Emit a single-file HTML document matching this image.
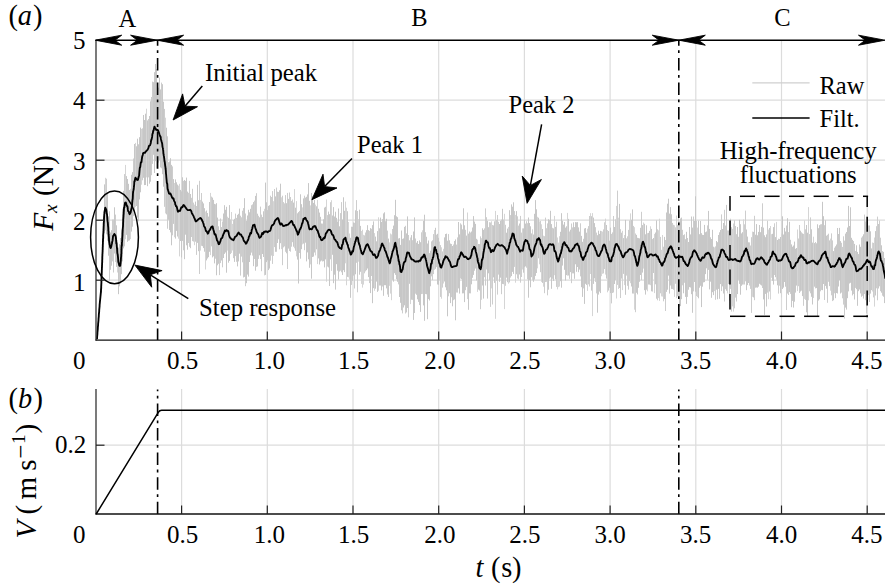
<!DOCTYPE html>
<html><head><meta charset="utf-8"><style>
html,body{margin:0;padding:0;background:#fff;}
svg{display:block;}
text{font-family:"Liberation Serif",serif;fill:#000;}
</style></head><body>
<svg width="885" height="585" viewBox="0 0 885 585">
<rect width="885" height="585" fill="#fff"/>
<line x1="181.6" y1="40" x2="181.6" y2="340" stroke="#dcdcdc" stroke-width="1.2"/><line x1="267.3" y1="40" x2="267.3" y2="340" stroke="#dcdcdc" stroke-width="1.2"/><line x1="353.0" y1="40" x2="353.0" y2="340" stroke="#dcdcdc" stroke-width="1.2"/><line x1="438.7" y1="40" x2="438.7" y2="340" stroke="#dcdcdc" stroke-width="1.2"/><line x1="524.4" y1="40" x2="524.4" y2="340" stroke="#dcdcdc" stroke-width="1.2"/><line x1="610.1" y1="40" x2="610.1" y2="340" stroke="#dcdcdc" stroke-width="1.2"/><line x1="695.8" y1="40" x2="695.8" y2="340" stroke="#dcdcdc" stroke-width="1.2"/><line x1="781.5" y1="40" x2="781.5" y2="340" stroke="#dcdcdc" stroke-width="1.2"/><line x1="867.2" y1="40" x2="867.2" y2="340" stroke="#dcdcdc" stroke-width="1.2"/><line x1="96" y1="280.2" x2="885" y2="280.2" stroke="#dcdcdc" stroke-width="1.2"/><line x1="96" y1="220.2" x2="885" y2="220.2" stroke="#dcdcdc" stroke-width="1.2"/><line x1="96" y1="160.2" x2="885" y2="160.2" stroke="#dcdcdc" stroke-width="1.2"/><line x1="96" y1="100.2" x2="885" y2="100.2" stroke="#dcdcdc" stroke-width="1.2"/><line x1="181.6" y1="389" x2="181.6" y2="514" stroke="#dcdcdc" stroke-width="1.2"/><line x1="267.3" y1="389" x2="267.3" y2="514" stroke="#dcdcdc" stroke-width="1.2"/><line x1="353.0" y1="389" x2="353.0" y2="514" stroke="#dcdcdc" stroke-width="1.2"/><line x1="438.7" y1="389" x2="438.7" y2="514" stroke="#dcdcdc" stroke-width="1.2"/><line x1="524.4" y1="389" x2="524.4" y2="514" stroke="#dcdcdc" stroke-width="1.2"/><line x1="610.1" y1="389" x2="610.1" y2="514" stroke="#dcdcdc" stroke-width="1.2"/><line x1="695.8" y1="389" x2="695.8" y2="514" stroke="#dcdcdc" stroke-width="1.2"/><line x1="781.5" y1="389" x2="781.5" y2="514" stroke="#dcdcdc" stroke-width="1.2"/><line x1="867.2" y1="389" x2="867.2" y2="514" stroke="#dcdcdc" stroke-width="1.2"/><line x1="96" y1="445.2" x2="885" y2="445.2" stroke="#dcdcdc" stroke-width="1.2"/><path d="M97.5 330.3V326.0M98.5 315.2V321.0M100.5 287.6V300.4M101.5 269.7V292.9M103.5 215.9V241.9M104.5 184.4V233.3M107.5 193.5V240.7M108.5 216.4V255.7M110.5 232.5V269.8M111.5 230.2V265.7M114.5 207.3V253.5M116.5 225.3V266.9M118.5 247.6V294.2M120.5 238.0V283.6M121.5 229.6V274.2M123.5 190.9V248.4M126.5 176.1V234.9M127.5 179.0V241.8M128.5 183.8V240.7M129.5 190.0V240.4M131.5 174.8V231.6M132.5 172.1V226.7M134.5 144.0V211.3M136.5 146.3V206.0M137.5 138.7V217.6M138.5 144.3V221.3M139.5 137.2V199.4M140.5 127.6V192.3M143.5 115.0V177.8M144.5 120.0V185.1M145.5 113.7V185.0M147.5 120.4V186.2M149.5 116.0V183.7M150.5 101.3V181.7M153.5 82.2V154.8M154.5 72.2V173.0M155.5 64.0V161.2M156.5 69.0V168.5M157.5 83.0V159.5M159.5 77.6V160.3M160.5 89.4V167.4M162.5 84.2V174.2M163.5 101.7V186.7M166.5 127.7V214.4M168.5 162.2V219.8M169.5 161.4V230.0M170.5 158.2V232.4M171.5 164.9V245.3M173.5 179.1V223.9M175.5 179.4V238.6M176.5 182.3V230.9M177.5 184.6V236.5M180.5 189.9V241.0M181.5 191.4V257.4M182.5 177.3V240.9M184.5 180.0V259.2M185.5 180.9V234.7M186.5 177.6V245.3M187.5 191.6V249.7M190.5 194.0V248.2M195.5 201.6V241.7M197.5 184.8V242.9M198.5 200.2V251.2M202.5 201.6V246.2M203.5 203.4V248.1M204.5 208.2V251.7M206.5 210.5V260.4M207.5 213.0V258.5M208.5 216.6V257.2M209.5 202.0V251.8M212.5 197.6V257.4M213.5 199.9V256.3M214.5 203.9V263.4M216.5 203.2V275.3M217.5 217.6V265.3M218.5 226.3V263.8M221.5 227.1V260.5M223.5 213.5V258.0M224.5 205.2V253.9M225.5 209.8V252.5M226.5 206.8V272.7M228.5 217.9V262.7M229.5 205.1V260.9M234.5 218.8V261.9M237.5 214.9V266.4M238.5 213.8V261.4M239.5 208.6V253.7M244.5 198.2V276.9M246.5 220.8V283.2M247.5 215.5V274.6M248.5 209.8V276.6M249.5 212.3V262.0M250.5 208.8V255.3M253.5 202.1V266.2M255.5 195.9V270.7M257.5 213.7V266.4M259.5 217.3V255.3M262.5 217.1V254.0M263.5 211.3V257.0M265.5 182.6V274.9M266.5 202.3V262.1M267.5 210.1V260.4M268.5 205.9V270.1M269.5 205.2V268.5M275.5 196.4V251.8M277.5 191.7V243.0M279.5 190.3V249.3M280.5 183.7V243.2M286.5 203.2V253.3M288.5 198.9V248.6M293.5 202.6V246.7M295.5 207.7V250.8M297.5 213.3V259.6M298.5 212.1V283.5M300.5 194.3V258.7M301.5 204.2V249.2M303.5 198.4V243.6M305.5 197.6V242.7M306.5 196.8V261.4M307.5 194.4V252.4M308.5 183.1V259.3M309.5 200.8V267.8M311.5 193.0V278.7M312.5 196.0V257.0M313.5 202.9V256.6M314.5 199.8V252.5M316.5 206.3V249.3M318.5 208.8V258.4M319.5 212.6V264.5M320.5 216.8V261.5M321.5 223.5V260.6M323.5 219.3V261.2M324.5 207.6V267.4M325.5 206.8V259.4M328.5 211.6V267.4M329.5 214.2V286.0M332.5 215.5V254.8M333.5 207.1V283.2M334.5 216.5V274.7M335.5 211.7V289.6M336.5 217.8V264.2M337.5 221.5V270.7M338.5 208.5V279.5M339.5 226.3V271.6M342.5 219.6V275.0M343.5 197.3V270.2M344.5 210.8V272.1M347.5 211.2V276.9M350.5 237.8V297.8M352.5 226.8V280.9M353.5 222.4V275.6M355.5 210.3V274.3M359.5 209.7V274.7M360.5 225.9V271.8M366.5 230.2V270.2M367.5 225.2V268.5M368.5 230.1V277.1M370.5 228.1V293.1M372.5 225.1V303.2M373.5 221.4V288.2M375.5 236.6V288.7M376.5 241.3V281.6M377.5 231.1V291.9M379.5 228.3V285.5M380.5 217.6V285.5M381.5 221.9V290.4M383.5 213.4V295.8M384.5 212.3V285.2M385.5 221.2V285.2M386.5 218.8V288.4M388.5 238.6V297.0M393.5 225.6V281.7M394.5 215.2V273.2M395.5 199.8V274.9M396.5 216.3V279.2M397.5 217.2V281.8M399.5 238.1V297.0M400.5 244.9V302.8M401.5 230.5V310.3M403.5 238.4V307.5M404.5 226.9V305.3M406.5 233.4V312.4M407.5 216.4V308.0M409.5 240.3V283.8M411.5 235.1V299.7M413.5 231.5V319.9M414.5 217.4V313.0M416.5 242.7V294.8M417.5 241.0V299.3M418.5 244.0V301.9M419.5 240.4V305.1M420.5 242.2V311.9M423.5 220.9V305.4M424.5 214.7V320.8M426.5 236.8V294.3M427.5 243.5V319.2M428.5 240.5V299.1M429.5 253.1V300.5M430.5 250.7V286.3M435.5 227.8V268.8M437.5 233.8V284.5M438.5 237.8V284.8M444.5 237.4V281.5M445.5 234.0V287.3M446.5 233.6V290.3M447.5 240.7V316.3M449.5 240.3V293.2M450.5 243.6V303.1M452.5 246.0V306.3M454.5 241.0V299.4M455.5 239.4V320.3M458.5 222.0V288.4M459.5 234.4V293.6M461.5 224.6V279.2M462.5 229.3V293.4M463.5 208.3V293.3M464.5 225.3V302.1M466.5 235.6V286.9M468.5 233.6V309.8M469.5 231.5V293.3M471.5 231.5V284.3M472.5 227.5V277.8M473.5 216.1V274.9M474.5 221.6V270.7M475.5 223.9V268.5M476.5 238.8V280.4M478.5 244.0V289.6M479.5 244.1V290.5M482.5 228.3V285.5M483.5 229.9V298.6M487.5 220.9V298.6M488.5 227.2V273.3M493.5 225.4V277.4M494.5 221.3V282.9M499.5 224.0V281.8M500.5 220.9V277.7M502.5 208.8V283.9M506.5 232.7V277.7M507.5 228.6V282.2M509.5 210.2V282.4M511.5 204.4V276.1M512.5 206.7V271.9M513.5 202.3V273.9M516.5 211.1V274.3M519.5 223.5V274.5M523.5 228.4V272.7M524.5 219.7V267.2M525.5 223.6V266.4M528.5 217.5V297.7M529.5 223.0V280.0M530.5 226.3V287.3M531.5 233.4V277.2M533.5 234.5V281.8M534.5 213.8V279.6M535.5 200.1V275.9M536.5 209.3V273.0M538.5 217.7V258.3M542.5 229.0V282.9M548.5 219.2V289.7M550.5 210.8V277.3M551.5 224.1V288.8M553.5 228.4V280.9M555.5 226.9V279.3M560.5 231.8V281.2M561.5 213.2V287.7M562.5 220.7V265.6M563.5 224.6V258.3M564.5 222.0V269.8M565.5 227.6V280.5M566.5 226.3V275.1M568.5 218.9V275.5M570.5 229.7V272.1M573.5 222.3V273.4M574.5 227.1V278.8M575.5 222.1V264.3M576.5 222.3V271.8M577.5 222.1V267.0M578.5 227.4V272.2M579.5 231.6V269.6M581.5 235.9V287.2M582.5 241.8V296.9M584.5 228.5V303.9M585.5 228.0V283.8M586.5 232.7V284.9M591.5 216.2V290.6M593.5 217.6V283.9M594.5 223.1V278.4M597.5 235.2V312.7M598.5 230.7V294.6M599.5 233.9V291.6M600.5 230.8V293.1M606.5 225.0V278.6M608.5 231.0V290.6M609.5 240.7V287.7M610.5 227.6V293.1M614.5 227.0V284.0M619.5 203.9V288.0M621.5 232.7V278.6M623.5 238.1V273.9M625.5 219.9V294.8M631.5 219.9V286.5M632.5 209.4V293.5M636.5 234.9V292.8M637.5 237.8V294.4M638.5 238.1V287.8M639.5 238.4V281.8M640.5 227.8V275.0M642.5 225.1V272.6M644.5 223.8V290.2M645.5 234.3V294.6M646.5 225.3V289.7M648.5 232.9V284.5M649.5 230.9V284.6M651.5 228.9V291.3M653.5 238.0V273.0M655.5 232.5V284.3M656.5 220.4V298.7M664.5 236.9V299.1M666.5 212.5V291.9M667.5 203.7V289.7M668.5 198.7V275.6M669.5 213.6V293.6M670.5 207.1V285.5M671.5 214.3V288.9M680.5 218.5V306.1M681.5 217.6V299.2M683.5 235.1V293.3M685.5 239.2V296.9M686.5 231.8V303.9M688.5 242.0V289.7M689.5 227.0V287.1M690.5 234.4V287.5M691.5 216.5V294.2M692.5 227.6V312.8M694.5 221.0V282.0M695.5 196.3V291.7M698.5 220.7V298.3M699.5 234.2V287.7M700.5 221.0V285.8M701.5 233.2V307.1M702.5 234.8V286.7M703.5 235.0V282.4M704.5 224.9V282.1M705.5 232.2V274.1M706.5 231.5V268.3M708.5 210.9V269.9M709.5 228.9V289.4M710.5 237.3V281.7M711.5 239.0V297.8M712.5 229.8V292.2M713.5 246.7V295.1M716.5 241.0V289.7M717.5 242.2V299.3M718.5 235.0V288.9M719.5 232.3V298.8M720.5 230.0V284.1M722.5 229.0V286.4M723.5 223.0V293.5M726.5 204.9V290.8M728.5 230.5V284.0M729.5 228.7V300.5M737.5 227.0V294.1M739.5 219.8V283.9M740.5 224.2V294.7M741.5 233.4V285.8M742.5 232.2V284.6M746.5 229.5V290.2M747.5 236.6V285.1M748.5 242.3V283.0M753.5 231.9V297.4M755.5 234.7V287.7M756.5 224.1V287.5M757.5 235.3V287.7M758.5 231.9V286.7M759.5 225.0V283.8M760.5 232.2V284.7M761.5 226.9V285.5M763.5 227.6V299.4M764.5 235.3V314.9M765.5 237.2V293.9M766.5 234.4V306.5M769.5 228.0V291.5M772.5 233.8V280.8M773.5 227.1V284.6M775.5 237.1V277.2M777.5 240.0V285.3M780.5 237.0V293.2M782.5 216.3V289.0M783.5 234.5V287.6M784.5 227.9V282.0M785.5 231.5V286.7M787.5 218.2V293.6M789.5 221.8V292.1M791.5 244.4V307.2M792.5 246.7V300.9M793.5 245.5V307.6M794.5 241.6V301.7M795.5 248.8V292.6M796.5 248.0V285.6M800.5 230.7V291.5M802.5 233.4V296.1M806.5 225.0V312.3M807.5 232.7V316.1M811.5 229.3V296.8M812.5 242.6V304.5M814.5 243.1V286.7M816.5 243.3V288.1M817.5 224.3V316.0M818.5 228.2V300.6M819.5 225.2V299.3M822.5 201.8V290.2M823.5 216.2V284.0M825.5 220.3V285.9M826.5 235.7V288.7M829.5 240.4V286.1M833.5 251.1V300.3M835.5 246.3V298.2M836.5 244.5V293.0M837.5 228.0V293.5M838.5 234.0V286.5M839.5 227.9V280.1M840.5 241.1V293.5M845.5 233.6V307.6M846.5 232.0V309.6M847.5 227.5V298.2M848.5 205.9V291.4M849.5 226.0V283.5M850.5 207.3V282.8M851.5 237.8V290.6M852.5 239.8V295.4M854.5 243.9V299.5M856.5 245.3V289.2M857.5 251.9V305.8M858.5 254.1V291.2M859.5 244.5V289.5M860.5 246.8V293.4M863.5 234.3V298.6M867.5 222.4V302.1M869.5 225.5V302.0M870.5 231.3V293.6M871.5 248.4V290.1M875.5 231.1V295.5M878.5 224.0V288.5M881.5 245.3V292.7M883.5 251.9V296.7M884.5 258.0V303.1" stroke="#c7c7c7" stroke-width="1" fill="none"/><path d="M99.5 303.4V310.9M106.5 178.7V234.3M109.5 211.3V281.1M112.5 219.5V261.4M113.5 219.5V272.5M115.5 214.6V262.1M119.5 244.1V286.3M122.5 208.7V261.4M124.5 174.1V246.4M133.5 158.5V216.2M142.5 128.3V180.3M148.5 119.0V177.4M151.5 97.0V175.2M152.5 81.6V163.9M158.5 87.6V162.6M161.5 82.6V168.3M164.5 108.9V206.8M167.5 136.3V228.7M172.5 166.4V235.3M183.5 180.9V250.3M188.5 192.8V243.0M189.5 180.9V246.8M191.5 197.8V237.0M192.5 188.8V241.1M193.5 202.6V241.6M196.5 206.0V254.9M199.5 180.8V274.0M201.5 193.0V245.8M211.5 196.6V246.4M215.5 204.3V258.7M219.5 230.1V275.1M220.5 218.5V263.1M222.5 221.5V267.3M230.5 219.5V254.1M233.5 220.0V258.2M235.5 213.6V256.1M236.5 217.9V261.8M240.5 215.7V275.6M241.5 217.3V256.6M242.5 210.7V262.3M243.5 208.1V277.5M245.5 213.5V286.2M251.5 205.2V252.6M252.5 204.4V255.6M254.5 200.6V259.0M256.5 193.2V266.9M258.5 215.8V258.9M260.5 206.6V259.1M261.5 214.6V271.2M270.5 195.7V260.7M271.5 197.0V255.6M272.5 191.1V263.9M274.5 189.0V247.1M276.5 187.6V251.8M278.5 192.0V239.3M282.5 195.7V265.2M283.5 202.1V247.4M284.5 203.4V246.4M285.5 195.1V251.8M287.5 192.9V269.0M289.5 192.5V251.0M290.5 197.0V251.7M291.5 200.9V246.7M292.5 199.5V242.2M299.5 210.9V253.0M304.5 195.7V250.2M322.5 223.6V261.5M327.5 215.1V266.6M330.5 202.2V259.3M340.5 213.1V270.7M341.5 202.1V272.3M351.5 226.7V284.9M354.5 222.8V288.5M356.5 200.1V262.8M357.5 211.0V292.3M364.5 235.4V273.3M365.5 232.5V271.4M369.5 230.9V283.1M371.5 228.8V276.0M382.5 219.0V286.5M387.5 230.6V294.5M392.5 229.0V279.9M398.5 238.5V284.4M402.5 238.9V313.4M405.5 225.8V313.5M408.5 235.0V317.3M412.5 240.2V299.9M415.5 238.5V293.7M421.5 232.3V294.1M425.5 232.2V294.0M431.5 241.4V276.4M432.5 240.3V280.1M433.5 234.1V274.1M436.5 234.7V267.1M440.5 245.1V296.9M442.5 251.4V287.6M448.5 234.1V296.3M451.5 244.0V297.2M453.5 244.5V300.2M456.5 244.6V292.5M457.5 237.4V292.6M460.5 223.3V278.5M465.5 229.8V290.2M470.5 232.5V293.4M480.5 236.4V309.2M484.5 228.4V277.2M485.5 208.4V285.5M486.5 217.2V269.5M489.5 222.2V280.2M490.5 222.5V306.9M492.5 225.0V304.5M496.5 220.0V280.8M497.5 215.0V294.6M498.5 221.8V274.6M501.5 219.6V294.2M503.5 219.6V284.2M505.5 224.8V285.8M510.5 215.1V277.6M514.5 211.1V266.9M517.5 216.3V278.5M518.5 225.6V279.3M520.5 215.9V282.7M521.5 232.6V277.0M526.5 221.2V267.7M527.5 223.2V279.4M540.5 221.0V272.2M544.5 236.2V293.2M545.5 217.6V282.0M546.5 228.2V281.8M547.5 223.4V295.3M549.5 220.0V278.6M552.5 227.8V278.8M556.5 221.7V286.9M569.5 231.5V278.8M571.5 223.5V283.2M572.5 227.4V273.4M580.5 223.3V276.4M583.5 238.8V288.4M588.5 226.1V284.3M589.5 216.0V286.5M595.5 227.2V281.9M596.5 232.6V293.4M603.5 229.4V273.4M604.5 222.3V269.1M611.5 233.9V303.4M612.5 232.4V293.0M613.5 216.0V292.5M615.5 219.3V280.0M617.5 190.6V284.9M620.5 229.2V298.0M626.5 238.3V275.6M627.5 236.3V285.8M628.5 229.9V289.6M629.5 220.5V281.1M633.5 225.9V293.6M635.5 233.5V312.2M641.5 211.8V280.1M652.5 239.1V291.6M657.5 229.3V300.3M660.5 236.9V293.3M663.5 246.7V301.3M665.5 240.0V311.0M672.5 222.9V289.0M673.5 224.8V289.7M675.5 227.3V283.8M677.5 224.8V296.3M678.5 217.8V298.6M679.5 221.4V306.8M682.5 229.8V285.3M684.5 234.3V282.8M687.5 238.0V296.9M693.5 216.5V291.4M696.5 220.8V296.0M707.5 225.4V279.7M715.5 246.4V299.8M721.5 214.4V291.1M724.5 209.8V301.5M725.5 225.5V289.2M730.5 218.7V288.9M731.5 227.2V311.6M734.5 220.3V308.3M735.5 226.0V297.6M736.5 234.2V301.5M738.5 236.8V279.9M744.5 224.3V284.5M745.5 210.6V281.3M749.5 242.4V285.6M750.5 245.5V288.9M751.5 237.2V312.9M754.5 215.8V300.2M762.5 203.3V288.0M767.5 220.7V292.6M774.5 223.3V275.0M778.5 238.7V293.6M779.5 238.9V285.7M786.5 225.5V310.0M788.5 232.1V295.0M790.5 239.8V293.9M798.5 238.5V286.2M799.5 225.0V293.0M801.5 232.3V290.7M803.5 233.9V305.8M805.5 229.3V299.9M809.5 234.1V291.3M810.5 217.4V293.3M815.5 242.0V288.4M820.5 224.4V291.3M821.5 224.2V289.9M824.5 225.2V300.0M827.5 234.8V302.8M828.5 233.7V281.8M831.5 233.4V295.3M832.5 240.4V301.1M834.5 247.7V293.3M841.5 242.8V292.6M842.5 246.9V298.3M843.5 236.3V304.6M844.5 240.6V318.5M853.5 241.0V294.1M855.5 250.9V287.9M861.5 237.6V296.8M862.5 236.3V295.8M864.5 214.6V294.1M865.5 221.4V300.2M866.5 216.7V313.5M873.5 242.9V297.4M876.5 226.2V288.3M877.5 216.6V300.3M879.5 220.5V286.3M880.5 237.7V291.2M882.5 251.1V295.7" stroke="#cdcdcd" stroke-width="1" fill="none"/><path d="M102.5 234.8V267.7M105.5 177.8V230.2M117.5 240.0V272.5M125.5 164.9V239.2M130.5 188.8V239.1M135.5 142.9V206.9M141.5 128.9V184.7M146.5 108.7V177.4M165.5 117.7V213.4M174.5 183.0V237.2M178.5 185.7V238.7M179.5 183.8V256.4M194.5 204.6V245.2M200.5 199.9V250.6M205.5 211.5V269.5M210.5 192.9V255.1M227.5 216.7V250.6M231.5 212.0V252.9M232.5 223.9V250.5M264.5 208.8V275.4M273.5 201.2V256.0M281.5 197.3V249.1M294.5 189.1V248.3M296.5 201.1V256.4M302.5 207.4V244.4M310.5 205.4V264.4M315.5 204.6V255.4M317.5 199.9V264.1M326.5 199.5V281.7M331.5 200.2V270.9M345.5 201.6V263.3M346.5 207.7V285.3M348.5 222.0V277.3M349.5 233.5V279.7M358.5 219.1V261.7M361.5 231.0V283.9M362.5 229.7V287.6M363.5 234.8V284.6M374.5 233.1V290.8M378.5 217.3V290.7M389.5 242.4V285.8M390.5 233.5V293.6M391.5 234.4V300.2M410.5 237.5V304.1M422.5 230.3V293.9M434.5 230.0V269.8M439.5 241.6V280.5M441.5 247.3V298.7M443.5 248.8V283.5M467.5 212.5V299.1M477.5 239.7V291.9M481.5 238.2V299.8M491.5 221.3V288.4M495.5 210.9V318.8M504.5 213.8V309.1M508.5 226.9V283.7M515.5 214.9V282.7M522.5 228.4V269.5M532.5 229.3V280.2M537.5 216.8V268.4M539.5 221.4V264.3M541.5 224.3V281.9M543.5 235.7V286.7M554.5 215.9V275.2M557.5 237.5V289.4M558.5 242.6V287.1M559.5 236.2V286.5M567.5 212.9V275.7M587.5 228.7V290.9M590.5 213.2V274.0M592.5 213.1V316.1M601.5 231.1V276.2M602.5 231.6V273.8M605.5 218.6V274.6M607.5 230.0V292.3M616.5 205.9V298.5M618.5 217.7V289.0M622.5 230.8V290.1M624.5 235.0V285.1M630.5 213.4V283.2M634.5 227.2V309.7M643.5 222.5V268.6M647.5 233.2V291.3M650.5 226.3V285.2M654.5 233.9V293.1M658.5 230.3V298.1M659.5 218.7V300.9M661.5 249.8V296.4M662.5 235.0V296.6M674.5 225.3V296.8M676.5 215.5V298.2M697.5 227.6V297.0M714.5 247.4V291.1M727.5 230.4V293.4M732.5 228.9V306.4M733.5 223.5V311.6M743.5 219.4V284.5M752.5 231.6V296.8M768.5 229.6V299.2M770.5 226.0V299.5M771.5 234.2V277.8M776.5 221.9V279.7M781.5 233.6V297.4M797.5 229.5V291.1M804.5 220.5V298.9M808.5 207.1V300.3M813.5 236.7V298.0M830.5 238.6V290.7M868.5 225.5V295.1M872.5 242.5V291.5M874.5 237.5V306.6" stroke="#d5d5d5" stroke-width="1" fill="none"/><line x1="157.6" y1="40" x2="157.6" y2="340" stroke="#000" stroke-width="1.6" stroke-dasharray="12.5 4.5 2.8 4.8" stroke-dashoffset="6.7"/><line x1="157.6" y1="389.6" x2="157.6" y2="514" stroke="#000" stroke-width="1.6" stroke-dasharray="12.5 4.5 2.8 4.8" stroke-dashoffset="10.8"/><line x1="678.8" y1="40" x2="678.8" y2="340" stroke="#000" stroke-width="1.6" stroke-dasharray="12.5 4.5 2.8 4.8" stroke-dashoffset="6.7"/><line x1="678.8" y1="389.6" x2="678.8" y2="514" stroke="#000" stroke-width="1.6" stroke-dasharray="12.5 4.5 2.8 4.8" stroke-dashoffset="10.8"/><path d="M97.0,339.3 L97.0,338.7 L97.1,337.9 L97.1,337.0 L97.2,336.0 L97.3,335.0 L97.4,334.0 L97.4,333.0 L97.5,332.0 L97.6,331.0 L97.7,330.0 L97.8,329.0 L97.8,328.0 L97.9,327.0 L98.0,326.0 L98.1,325.0 L98.1,324.0 L98.2,323.1 L98.3,322.1 L98.4,321.1 L98.5,320.1 L98.5,319.1 L98.6,318.1 L98.7,317.1 L98.8,316.1 L98.8,315.1 L98.9,314.1 L99.0,313.1 L99.1,312.1 L99.2,311.1 L99.2,310.1 L99.3,309.1 L99.4,308.1 L99.5,307.1 L99.6,306.1 L99.6,305.1 L99.7,304.1 L99.8,303.1 L99.9,302.1 L100.0,301.1 L100.1,300.1 L100.2,299.1 L100.3,298.1 L100.4,297.1 L100.5,296.1 L100.6,295.2 L100.7,294.2 L100.8,293.2 L100.9,292.2 L101.0,291.2 L101.0,290.2 L101.1,289.2 L101.2,288.2 L101.2,287.2 L101.2,286.2 L101.3,285.2 L101.3,284.2 L101.4,283.2 L101.4,282.2 L101.4,281.2 L101.5,279.8 L101.5,279.1 L101.5,277.6 L101.6,276.4 L101.6,275.3 L101.7,275.2 L101.7,275.0 L101.7,273.6 L101.8,271.6 L101.8,270.5 L101.9,269.4 L101.9,268.2 L101.9,267.1 L102.0,267.5 L102.0,267.1 L102.0,265.9 L102.1,264.2 L102.1,262.8 L102.2,262.5 L102.2,261.7 L102.2,260.5 L102.3,259.0 L102.3,258.2 L102.3,257.2 L102.4,255.6 L102.4,254.5 L102.5,253.6 L102.5,253.4 L102.5,252.9 L102.6,252.0 L102.6,250.7 L102.7,249.4 L102.7,248.7 L102.7,247.6 L102.8,246.8 L102.8,245.0 L102.9,243.9 L102.9,242.2 L103.0,240.7 L103.0,239.4 L103.0,238.9 L103.1,238.7 L103.1,238.8 L103.2,238.1 L103.2,236.4 L103.2,234.7 L103.3,234.3 L103.3,233.5 L103.4,232.2 L103.4,231.3 L103.5,230.7 L103.5,229.4 L103.6,227.9 L103.6,226.8 L103.7,225.8 L103.7,224.8 L103.7,223.6 L103.8,223.3 L103.8,222.5 L103.9,221.8 L104.0,220.1 L104.0,218.9 L104.1,217.2 L104.2,215.7 L104.2,215.0 L104.3,214.2 L104.4,213.6 L104.4,212.2 L104.5,212.0 L104.7,210.7 L104.8,210.4 L104.9,209.5 L105.1,208.3 L105.3,207.6 L105.5,208.3 L105.7,209.2 L105.9,209.0 L106.1,209.2 L106.3,209.8 L106.5,211.2 L106.6,212.3 L106.7,213.5 L106.9,213.8 L107.0,214.6 L107.1,215.2 L107.2,216.9 L107.3,218.4 L107.4,220.1 L107.5,220.7 L107.6,221.4 L107.7,221.8 L107.8,222.6 L107.9,223.9 L108.0,224.9 L108.0,226.0 L108.1,226.4 L108.2,227.1 L108.3,228.9 L108.3,230.5 L108.4,231.1 L108.5,231.6 L108.5,233.6 L108.6,234.5 L108.7,235.0 L108.7,235.3 L108.8,236.1 L108.9,237.4 L109.0,238.9 L109.0,240.5 L109.1,241.0 L109.2,242.0 L109.4,242.9 L109.5,244.0 L109.6,244.5 L109.8,245.0 L110.0,246.4 L110.3,247.6 L110.6,248.1 L110.9,247.5 L111.2,246.8 L111.4,245.6 L111.6,244.9 L111.8,244.1 L112.0,243.2 L112.1,242.0 L112.3,241.6 L112.4,241.1 L112.6,240.2 L112.8,238.5 L113.0,236.5 L113.2,235.7 L113.4,235.7 L113.7,235.3 L114.1,234.3 L114.4,234.0 L114.8,234.5 L115.1,235.1 L115.4,235.4 L115.6,236.4 L115.8,236.8 L115.9,237.9 L116.0,238.8 L116.1,240.6 L116.2,242.0 L116.3,243.5 L116.4,243.7 L116.5,242.9 L116.6,243.6 L116.7,245.0 L116.8,246.4 L116.9,247.5 L117.0,248.4 L117.1,248.2 L117.1,248.9 L117.2,250.9 L117.3,252.6 L117.4,253.5 L117.6,254.1 L117.7,254.5 L117.8,255.4 L117.9,256.5 L118.0,257.3 L118.1,258.5 L118.2,260.1 L118.3,261.8 L118.5,262.3 L118.6,262.9 L118.8,263.3 L119.0,264.2 L119.2,265.2 L119.4,265.7 L119.7,265.9 L120.0,265.5 L120.2,265.8 L120.4,264.4 L120.6,263.2 L120.7,261.7 L120.8,261.1 L120.9,259.2 L121.0,257.9 L121.0,257.3 L121.1,257.0 L121.2,256.1 L121.2,254.7 L121.3,254.1 L121.4,253.3 L121.4,251.4 L121.5,249.4 L121.5,247.8 L121.6,246.2 L121.7,245.1 L121.7,245.8 L121.8,246.3 L121.9,244.9 L121.9,242.9 L122.0,242.3 L122.0,242.1 L122.1,241.4 L122.2,239.9 L122.2,238.8 L122.3,238.1 L122.3,237.5 L122.4,236.5 L122.5,234.8 L122.5,233.6 L122.6,232.4 L122.6,232.1 L122.7,230.6 L122.7,229.6 L122.8,228.3 L122.9,227.3 L122.9,226.8 L123.0,226.8 L123.0,226.1 L123.1,224.5 L123.1,223.2 L123.2,221.3 L123.2,219.7 L123.3,218.9 L123.3,219.0 L123.4,217.5 L123.5,216.2 L123.5,215.2 L123.6,215.1 L123.6,214.5 L123.7,213.5 L123.7,212.6 L123.8,211.5 L123.9,210.0 L124.0,207.8 L124.1,207.4 L124.3,207.4 L124.4,207.4 L124.5,206.1 L124.7,204.8 L124.9,203.6 L125.1,202.8 L125.5,202.5 L125.9,202.7 L126.3,204.1 L126.7,205.4 L127.0,206.1 L127.3,206.1 L127.5,206.6 L127.7,208.2 L127.9,209.9 L128.1,211.0 L128.3,211.2 L128.6,211.4 L128.9,212.1 L129.2,213.4 L129.6,214.2 L129.9,213.9 L130.3,213.0 L130.6,212.5 L130.9,211.1 L131.1,210.0 L131.3,208.8 L131.4,208.7 L131.6,207.7 L131.7,207.1 L131.8,206.5 L131.9,205.8 L132.1,204.1 L132.2,202.6 L132.3,201.8 L132.4,200.6 L132.5,199.6 L132.6,199.6 L132.7,199.1 L132.8,197.5 L132.9,195.3 L132.9,194.5 L133.0,193.2 L133.1,192.0 L133.2,191.4 L133.3,190.9 L133.4,190.4 L133.5,189.8 L133.7,189.3 L133.8,187.9 L133.9,187.2 L134.0,186.2 L134.2,184.5 L134.3,182.1 L134.4,181.1 L134.6,181.1 L134.7,181.3 L134.9,180.1 L135.2,178.4 L135.5,177.7 L136.0,178.4 L136.6,179.2 L137.1,179.8 L137.6,180.0 L138.0,179.7 L138.2,178.9 L138.4,178.1 L138.6,177.3 L138.7,176.5 L138.9,176.2 L139.1,175.7 L139.2,174.3 L139.4,171.9 L139.5,170.6 L139.7,169.1 L139.8,167.9 L140.0,167.2 L140.1,167.5 L140.3,167.0 L140.5,164.9 L140.7,163.3 L140.9,162.3 L141.1,162.2 L141.3,162.4 L141.5,162.0 L141.7,160.2 L142.0,157.8 L142.2,156.6 L142.4,156.0 L142.7,155.1 L143.0,154.1 L143.3,152.9 L143.8,152.8 L144.3,152.7 L144.9,152.9 L145.6,151.8 L146.3,151.0 L146.9,150.4 L147.5,149.9 L148.0,148.9 L148.5,147.6 L148.9,146.2 L149.3,145.7 L149.7,145.5 L150.1,145.1 L150.4,144.3 L150.8,142.9 L151.0,141.2 L151.2,140.0 L151.4,140.0 L151.6,139.2 L151.8,138.4 L152.0,137.6 L152.2,136.2 L152.4,134.2 L152.6,133.5 L152.8,133.4 L153.0,132.0 L153.2,130.9 L153.4,130.4 L153.6,130.6 L153.8,129.2 L154.1,127.9 L154.5,126.6 L155.0,127.7 L155.6,128.6 L156.2,129.9 L156.7,129.6 L157.3,130.3 L157.8,130.0 L158.2,130.7 L158.7,132.1 L159.1,133.3 L159.5,134.5 L159.9,135.5 L160.2,136.4 L160.5,136.6 L160.7,137.3 L160.9,138.7 L161.1,139.7 L161.3,140.5 L161.5,141.3 L161.8,142.2 L162.0,142.9 L162.2,143.9 L162.4,145.8 L162.5,146.8 L162.7,147.5 L162.9,148.1 L163.0,149.2 L163.2,150.5 L163.3,151.8 L163.4,153.5 L163.6,154.2 L163.7,155.2 L163.8,155.7 L164.0,156.6 L164.1,157.6 L164.3,158.8 L164.4,160.2 L164.5,161.1 L164.7,161.6 L164.8,162.2 L164.9,163.3 L165.1,165.1 L165.2,165.9 L165.3,166.7 L165.4,166.7 L165.5,168.1 L165.6,169.0 L165.7,169.7 L165.8,170.4 L165.9,172.4 L166.0,173.7 L166.0,173.9 L166.1,174.3 L166.2,175.5 L166.3,177.0 L166.4,178.2 L166.5,179.2 L166.6,180.2 L166.7,181.4 L166.8,182.7 L167.0,183.2 L167.1,183.9 L167.3,183.9 L167.4,186.0 L167.5,187.8 L167.7,189.3 L167.9,189.6 L168.2,190.7 L168.5,191.6 L168.9,193.2 L169.3,193.9 L169.8,193.8 L170.3,193.4 L170.8,194.2 L171.4,195.8 L172.1,197.6 L172.7,198.5 L173.2,198.3 L173.6,198.6 L174.0,200.6 L174.3,201.2 L174.7,201.9 L175.0,202.4 L175.3,204.6 L175.7,205.2 L176.0,206.1 L176.4,206.2 L176.8,207.0 L177.2,208.6 L177.6,210.7 L178.0,211.7 L178.4,211.4 L178.8,210.7 L179.2,210.7 L179.6,210.9 L180.0,211.0 L180.3,210.3 L180.7,208.9 L181.1,207.9 L181.5,207.1 L181.8,207.2 L182.2,207.3 L182.6,206.8 L183.1,205.5 L183.5,204.9 L184.0,205.3 L184.6,206.0 L185.1,206.8 L185.7,207.5 L186.3,208.6 L187.0,209.3 L187.8,210.1 L188.6,210.1 L189.5,210.0 L190.2,209.8 L190.8,210.4 L191.3,211.3 L191.7,212.6 L192.1,213.7 L192.5,214.2 L192.9,214.9 L193.3,215.5 L193.7,216.5 L194.0,217.4 L194.4,218.1 L194.8,219.0 L195.2,220.2 L195.7,221.4 L196.2,221.4 L196.8,220.9 L197.5,220.1 L198.2,219.5 L198.9,218.8 L199.5,218.6 L200.2,218.0 L200.7,218.1 L201.2,218.6 L201.6,219.7 L202.0,220.2 L202.4,221.2 L202.8,221.7 L203.1,222.7 L203.5,223.8 L203.9,225.4 L204.2,226.4 L204.6,226.9 L205.0,227.5 L205.3,228.6 L205.7,230.1 L206.1,231.1 L206.4,231.1 L206.8,231.6 L207.3,232.7 L207.8,233.7 L208.3,233.2 L208.8,231.4 L209.4,230.4 L210.0,229.8 L210.6,228.5 L211.1,227.3 L211.7,226.6 L212.2,226.6 L212.6,226.4 L213.0,228.2 L213.3,229.5 L213.7,230.6 L214.0,231.8 L214.4,233.7 L214.7,234.5 L215.0,234.4 L215.4,234.2 L215.7,234.8 L216.0,236.1 L216.4,237.8 L216.7,239.1 L217.0,240.2 L217.4,240.8 L217.7,241.4 L218.1,242.2 L218.4,243.5 L218.8,244.2 L219.2,244.1 L219.6,243.2 L220.0,242.1 L220.5,240.8 L220.9,239.2 L221.4,238.3 L221.8,238.1 L222.3,237.8 L222.7,236.1 L223.2,234.8 L223.6,233.7 L224.0,233.1 L224.5,231.5 L224.9,230.5 L225.4,230.6 L225.8,231.2 L226.3,230.6 L226.7,230.1 L227.2,230.7 L227.6,230.6 L228.0,231.0 L228.5,232.1 L228.9,234.4 L229.4,236.1 L229.8,237.3 L230.3,238.0 L230.7,238.2 L231.2,238.9 L231.6,239.3 L232.1,239.4 L232.6,239.5 L233.2,240.2 L233.8,239.7 L234.4,238.3 L235.0,236.9 L235.6,236.7 L236.2,236.1 L236.8,235.6 L237.4,234.2 L238.0,233.3 L238.6,232.5 L239.2,233.3 L239.7,234.3 L240.2,234.6 L240.8,234.4 L241.3,235.0 L241.8,236.3 L242.3,236.8 L242.9,237.8 L243.4,239.5 L243.9,241.0 L244.4,241.3 L245.0,242.2 L245.5,242.8 L246.0,243.7 L246.4,243.3 L246.8,242.5 L247.2,241.5 L247.5,240.9 L247.8,240.5 L248.2,239.7 L248.5,238.7 L248.8,237.3 L249.1,236.3 L249.5,236.0 L249.8,234.9 L250.1,233.7 L250.4,232.9 L250.8,233.3 L251.1,233.5 L251.4,232.0 L251.7,230.1 L252.1,229.0 L252.4,228.1 L252.7,226.6 L253.0,225.2 L253.4,225.2 L253.8,225.3 L254.1,224.9 L254.5,224.7 L254.9,226.2 L255.3,227.7 L255.7,228.9 L256.1,229.8 L256.5,231.3 L256.9,232.2 L257.3,233.1 L257.7,233.5 L258.0,234.2 L258.4,234.6 L258.8,236.2 L259.2,237.3 L259.6,237.8 L260.1,237.2 L260.5,236.9 L260.9,236.8 L261.4,235.7 L261.8,234.2 L262.2,232.9 L262.7,233.7 L263.1,234.0 L263.6,233.1 L264.1,231.6 L264.6,231.7 L265.2,231.8 L265.8,231.3 L266.5,231.3 L267.2,232.0 L267.8,232.3 L268.4,231.3 L269.0,231.1 L269.6,231.1 L270.2,230.7 L270.7,229.2 L271.3,227.0 L271.8,225.8 L272.4,225.0 L273.0,225.0 L273.5,224.3 L274.1,223.4 L274.6,221.6 L275.2,220.5 L275.7,219.8 L276.3,219.5 L276.8,218.6 L277.3,218.5 L277.9,218.0 L278.4,218.9 L278.9,220.4 L279.4,222.4 L279.9,223.7 L280.4,224.6 L280.9,224.0 L281.4,223.5 L281.9,224.0 L282.5,225.1 L283.1,226.0 L283.8,225.9 L284.6,225.9 L285.4,225.2 L286.2,225.4 L287.0,224.9 L287.9,224.7 L288.7,224.0 L289.4,223.2 L290.2,222.4 L291.0,221.3 L291.7,220.9 L292.3,222.0 L292.9,223.9 L293.3,225.0 L293.7,225.3 L294.1,225.0 L294.4,225.8 L294.8,226.7 L295.1,227.7 L295.4,228.0 L295.8,229.0 L296.1,229.8 L296.5,230.8 L296.8,231.3 L297.2,232.0 L297.5,233.6 L297.8,234.7 L298.2,234.3 L298.5,233.0 L298.9,232.7 L299.2,231.5 L299.6,230.0 L299.9,229.3 L300.3,229.0 L300.7,228.2 L301.0,227.4 L301.4,226.3 L301.7,225.1 L302.1,223.4 L302.4,223.3 L302.8,221.8 L303.1,220.4 L303.5,218.8 L303.8,218.9 L304.2,218.8 L304.5,218.9 L304.9,217.9 L305.2,217.8 L305.6,218.0 L306.0,219.0 L306.3,219.8 L306.7,220.6 L307.0,220.8 L307.4,221.3 L307.8,222.2 L308.1,223.5 L308.5,224.9 L308.8,226.6 L309.2,228.4 L309.6,229.3 L309.9,229.2 L310.3,228.8 L310.7,229.0 L311.1,229.2 L311.6,229.2 L312.1,228.9 L312.6,227.7 L313.1,226.8 L313.6,226.5 L314.1,226.6 L314.6,226.0 L315.1,226.2 L315.5,226.4 L315.8,227.4 L316.2,228.3 L316.5,229.3 L316.9,229.9 L317.2,230.1 L317.6,230.6 L317.9,231.4 L318.3,233.0 L318.6,233.5 L319.0,235.0 L319.3,236.3 L319.7,237.1 L320.0,236.5 L320.4,237.2 L320.7,238.7 L321.1,239.8 L321.5,240.2 L321.9,240.0 L322.4,240.0 L322.9,239.1 L323.4,238.4 L323.9,237.8 L324.4,238.3 L324.9,237.3 L325.4,235.4 L325.9,233.3 L326.4,233.0 L326.9,232.1 L327.4,231.2 L327.9,230.3 L328.4,230.0 L328.9,229.6 L329.4,229.8 L330.0,230.0 L330.5,230.4 L331.0,231.3 L331.5,233.2 L332.1,234.6 L332.6,234.8 L333.1,235.2 L333.7,236.7 L334.2,238.6 L334.7,239.5 L335.2,239.7 L335.7,240.5 L336.2,241.3 L336.7,241.9 L337.2,242.1 L337.7,243.8 L338.2,245.5 L338.7,247.0 L339.2,247.2 L339.7,248.0 L340.2,248.1 L340.6,248.2 L341.0,248.6 L341.4,248.9 L341.7,247.7 L342.0,245.6 L342.3,244.6 L342.6,244.4 L342.9,243.4 L343.2,241.4 L343.5,239.7 L343.8,239.1 L344.2,239.0 L344.5,238.8 L344.8,238.4 L345.1,238.3 L345.4,237.6 L345.6,238.2 L345.9,239.8 L346.2,241.6 L346.5,242.1 L346.8,242.2 L347.1,243.6 L347.4,244.3 L347.6,244.8 L347.9,245.3 L348.2,247.0 L348.5,247.9 L348.8,248.6 L349.1,249.3 L349.3,250.4 L349.6,251.2 L349.9,251.8 L350.2,252.5 L350.5,253.9 L350.8,254.6 L351.0,254.4 L351.3,254.2 L351.6,253.6 L351.9,252.7 L352.2,251.3 L352.5,251.0 L352.7,251.2 L353.0,251.6 L353.3,250.0 L353.6,248.2 L353.9,246.6 L354.2,245.7 L354.4,245.0 L354.7,243.7 L355.0,242.7 L355.3,241.5 L355.6,241.4 L355.8,240.3 L356.1,239.0 L356.4,237.6 L356.7,237.3 L357.0,237.4 L357.2,237.6 L357.5,237.7 L357.7,237.6 L358.0,238.5 L358.3,240.3 L358.5,242.1 L358.8,242.7 L359.0,243.8 L359.3,244.6 L359.5,245.1 L359.8,245.6 L360.1,247.2 L360.3,248.1 L360.6,249.3 L360.8,249.9 L361.1,250.7 L361.3,251.6 L361.6,253.0 L361.9,253.5 L362.2,253.0 L362.5,253.5 L362.9,254.2 L363.2,253.5 L363.6,252.3 L364.0,251.3 L364.4,250.3 L364.8,249.2 L365.2,248.1 L365.6,247.2 L366.0,245.9 L366.4,245.1 L366.8,244.8 L367.2,244.4 L367.6,244.2 L368.1,245.0 L368.5,246.2 L369.0,247.4 L369.5,248.4 L369.9,249.5 L370.4,250.8 L370.9,251.1 L371.4,251.7 L371.9,251.7 L372.5,253.5 L373.1,254.9 L373.7,255.0 L374.3,254.3 L374.9,254.7 L375.5,256.7 L376.0,257.9 L376.6,257.8 L377.0,257.4 L377.4,256.8 L377.8,256.1 L378.2,255.3 L378.5,253.4 L378.9,252.3 L379.3,250.9 L379.6,251.0 L380.0,250.0 L380.3,249.0 L380.7,247.8 L381.1,246.7 L381.4,245.6 L381.8,244.0 L382.1,243.6 L382.5,243.9 L382.8,245.0 L383.2,245.4 L383.5,246.1 L383.8,246.8 L384.2,247.6 L384.5,248.3 L384.8,249.8 L385.1,250.7 L385.5,251.1 L385.8,251.6 L386.1,252.7 L386.4,253.4 L386.8,254.7 L387.1,255.7 L387.4,257.0 L387.8,257.3 L388.1,258.4 L388.4,259.5 L388.7,260.5 L389.1,261.8 L389.4,262.6 L389.7,263.3 L390.0,262.7 L390.3,261.5 L390.6,259.6 L390.9,258.5 L391.1,257.9 L391.4,257.1 L391.7,255.8 L392.0,254.1 L392.3,252.8 L392.6,251.3 L392.9,251.0 L393.2,250.1 L393.5,249.6 L393.7,248.4 L394.0,247.9 L394.3,246.8 L394.6,245.0 L394.9,243.6 L395.2,242.9 L395.4,242.8 L395.6,244.1 L395.8,245.4 L396.0,246.6 L396.2,246.6 L396.4,247.8 L396.6,248.6 L396.8,250.0 L397.0,251.2 L397.2,253.0 L397.3,254.3 L397.5,254.9 L397.7,254.8 L397.9,255.8 L398.1,256.8 L398.3,258.4 L398.5,259.3 L398.6,260.9 L398.8,261.0 L399.0,261.4 L399.2,262.3 L399.4,264.1 L399.6,264.7 L399.8,265.2 L399.9,265.8 L400.1,267.0 L400.3,269.3 L400.5,271.5 L400.7,271.8 L400.9,271.0 L401.1,271.0 L401.3,272.0 L401.6,271.9 L401.8,270.9 L402.1,270.0 L402.4,269.9 L402.7,269.1 L403.0,267.2 L403.3,265.2 L403.6,264.1 L403.8,262.8 L404.1,262.5 L404.4,262.0 L404.7,261.9 L405.0,261.5 L405.3,261.4 L405.6,259.8 L405.8,258.1 L406.1,257.4 L406.4,256.6 L406.7,254.8 L407.0,253.4 L407.3,252.5 L407.7,252.9 L408.1,252.6 L408.5,252.7 L409.0,252.9 L409.5,254.7 L410.0,256.1 L410.5,257.2 L411.0,258.1 L411.5,259.3 L412.0,259.3 L412.6,259.6 L413.4,259.8 L414.2,261.0 L415.1,261.5 L416.0,261.7 L416.9,261.2 L417.7,261.3 L418.4,261.6 L419.0,260.8 L419.6,260.5 L420.2,260.8 L420.8,259.7 L421.4,257.7 L422.0,257.2 L422.6,257.6 L423.1,256.7 L423.6,255.2 L424.1,254.5 L424.4,254.7 L424.7,255.3 L425.0,256.6 L425.2,257.6 L425.5,258.5 L425.7,258.7 L425.9,259.7 L426.2,260.7 L426.4,261.9 L426.7,263.4 L426.9,265.0 L427.2,266.2 L427.4,266.9 L427.7,267.7 L427.9,268.4 L428.1,269.1 L428.4,270.3 L428.6,271.0 L428.9,272.3 L429.1,273.0 L429.3,273.2 L429.5,272.3 L429.7,271.5 L429.9,271.0 L430.1,270.1 L430.3,269.7 L430.5,268.6 L430.7,266.8 L430.9,264.9 L431.1,263.6 L431.3,263.3 L431.5,263.3 L431.7,263.5 L431.9,262.0 L432.1,260.0 L432.3,259.6 L432.5,259.5 L432.7,258.7 L432.9,257.4 L433.1,257.4 L433.3,257.1 L433.5,255.6 L433.7,253.6 L433.9,252.4 L434.1,251.2 L434.2,249.5 L434.4,248.3 L434.6,247.5 L434.8,247.2 L435.1,247.1 L435.3,248.7 L435.5,249.3 L435.8,249.7 L436.0,249.7 L436.3,251.2 L436.5,252.7 L436.8,253.6 L437.0,253.9 L437.3,253.8 L437.5,254.5 L437.7,256.1 L438.0,257.9 L438.2,258.8 L438.5,259.2 L438.7,260.3 L439.0,261.9 L439.2,262.8 L439.5,263.6 L439.7,263.7 L440.0,264.2 L440.2,265.9 L440.5,266.9 L440.7,267.3 L441.0,267.1 L441.3,267.6 L441.6,266.7 L441.9,265.7 L442.2,265.0 L442.5,264.4 L442.9,262.7 L443.2,261.5 L443.5,260.4 L443.8,259.9 L444.1,259.1 L444.4,258.9 L444.7,258.6 L445.1,257.4 L445.4,256.5 L445.7,256.2 L446.0,256.6 L446.4,257.0 L446.8,257.1 L447.2,257.2 L447.5,257.9 L447.9,258.4 L448.3,259.2 L448.7,259.8 L449.1,261.0 L449.5,261.2 L449.9,261.8 L450.3,263.0 L450.7,264.9 L451.3,266.5 L451.9,267.1 L452.7,267.0 L453.5,266.4 L454.4,266.4 L455.1,266.1 L455.8,266.0 L456.4,265.9 L456.9,265.3 L457.2,263.4 L457.6,261.2 L457.9,259.8 L458.3,258.9 L458.6,258.9 L458.9,258.9 L459.3,257.7 L459.6,256.3 L459.9,256.0 L460.3,255.6 L460.6,254.0 L461.0,252.5 L461.3,252.3 L461.8,252.8 L462.2,253.6 L462.7,254.6 L463.3,255.6 L463.8,256.5 L464.4,257.1 L465.0,256.7 L465.6,256.6 L466.3,257.3 L467.1,258.4 L467.8,259.1 L468.5,259.2 L469.1,258.6 L469.6,258.3 L470.0,258.3 L470.4,257.7 L470.7,256.6 L471.0,255.9 L471.4,255.0 L471.7,252.6 L472.1,250.7 L472.4,249.6 L472.7,249.3 L473.1,248.6 L473.4,248.5 L473.8,248.1 L474.1,246.8 L474.4,246.9 L474.6,247.6 L474.9,247.9 L475.1,247.9 L475.4,249.4 L475.6,250.6 L475.8,251.7 L476.1,252.5 L476.3,253.2 L476.5,253.9 L476.8,255.5 L477.0,256.6 L477.2,257.5 L477.5,258.2 L477.7,260.5 L477.9,261.5 L478.2,262.5 L478.4,262.7 L478.6,263.7 L478.9,264.4 L479.1,265.8 L479.3,267.4 L479.6,268.2 L479.8,268.4 L480.0,268.2 L480.2,268.6 L480.4,269.0 L480.6,269.3 L480.8,268.5 L481.0,267.7 L481.2,266.8 L481.3,265.8 L481.5,263.6 L481.7,261.4 L481.9,259.8 L482.1,260.0 L482.2,259.5 L482.4,259.3 L482.6,258.2 L482.8,258.1 L483.0,257.2 L483.1,255.8 L483.3,254.0 L483.5,252.6 L483.7,251.8 L483.9,250.7 L484.0,249.5 L484.2,249.2 L484.4,248.0 L484.6,246.7 L484.7,244.9 L484.9,244.5 L485.1,243.9 L485.3,243.4 L485.5,242.6 L485.7,241.0 L485.9,240.8 L486.2,240.6 L486.6,241.6 L487.0,242.1 L487.3,242.2 L487.7,242.2 L488.1,243.3 L488.5,246.0 L489.0,247.5 L489.4,248.2 L489.8,248.0 L490.2,249.1 L490.6,250.9 L491.0,252.2 L491.4,251.7 L491.9,250.3 L492.4,250.0 L493.0,250.9 L493.5,251.2 L494.1,250.3 L494.6,248.7 L495.2,247.1 L495.8,246.2 L496.3,245.0 L497.0,244.4 L497.6,243.8 L498.4,244.7 L499.2,245.3 L500.1,245.7 L500.9,245.5 L501.8,245.2 L502.6,245.5 L503.3,246.3 L503.9,247.0 L504.4,247.2 L504.9,248.1 L505.3,248.9 L505.7,249.6 L506.1,250.0 L506.5,251.4 L506.8,252.5 L507.1,253.7 L507.4,252.6 L507.7,250.9 L508.0,249.7 L508.2,249.4 L508.5,248.5 L508.8,247.8 L509.0,247.1 L509.3,245.5 L509.6,243.3 L509.8,242.5 L510.1,242.4 L510.4,241.4 L510.6,239.7 L510.9,238.8 L511.2,238.8 L511.4,238.0 L511.7,236.9 L512.0,236.2 L512.2,234.9 L512.5,233.6 L512.8,233.4 L513.1,234.2 L513.4,233.9 L513.7,234.2 L514.0,235.9 L514.3,238.4 L514.6,238.8 L514.9,239.9 L515.3,240.5 L515.6,242.2 L515.9,242.8 L516.2,244.6 L516.5,245.2 L516.8,245.1 L517.1,245.8 L517.5,246.6 L518.0,246.6 L518.6,248.0 L519.3,249.7 L520.1,251.6 L520.9,250.5 L521.7,250.4 L522.2,250.3 L522.7,250.7 L523.1,249.3 L523.4,247.1 L523.7,245.4 L524.1,243.7 L524.4,242.3 L524.7,241.5 L525.0,241.3 L525.3,240.8 L525.6,239.9 L525.9,240.4 L526.2,240.8 L526.5,240.7 L526.8,240.7 L527.1,240.8 L527.4,241.3 L527.7,242.1 L528.0,243.1 L528.3,243.8 L528.6,244.0 L528.9,245.3 L529.2,247.2 L529.4,248.6 L529.7,249.3 L530.0,249.4 L530.3,250.1 L530.6,250.4 L530.9,252.3 L531.2,254.9 L531.5,256.5 L531.8,256.1 L532.1,255.6 L532.3,255.3 L532.6,255.2 L532.9,254.4 L533.2,253.7 L533.5,252.7 L533.8,251.4 L534.1,250.1 L534.4,248.2 L534.7,247.1 L535.0,246.0 L535.3,245.5 L535.6,244.5 L535.9,244.0 L536.2,243.4 L536.5,242.4 L536.8,240.8 L537.1,239.4 L537.4,239.3 L537.7,239.6 L538.0,239.7 L538.3,238.7 L538.6,238.4 L538.9,238.1 L539.3,239.1 L539.6,239.5 L539.9,239.7 L540.2,240.8 L540.5,243.3 L540.8,244.8 L541.2,244.4 L541.5,244.8 L541.8,246.2 L542.1,246.5 L542.4,247.1 L542.8,248.3 L543.1,250.0 L543.4,251.7 L543.7,252.5 L544.1,253.8 L544.4,253.7 L544.8,253.2 L545.3,251.2 L545.7,250.0 L546.2,249.6 L546.7,249.5 L547.1,249.0 L547.6,247.8 L548.1,246.8 L548.5,245.5 L549.1,244.6 L549.7,244.2 L550.5,244.2 L551.3,244.7 L552.1,244.7 L552.8,244.3 L553.3,244.7 L553.7,245.8 L554.0,247.4 L554.2,249.4 L554.5,251.0 L554.7,251.3 L555.0,251.0 L555.2,251.3 L555.5,251.9 L555.8,252.5 L556.0,253.6 L556.3,254.9 L556.5,256.5 L556.8,257.6 L557.0,258.5 L557.3,258.6 L557.5,259.9 L557.8,260.8 L558.1,261.6 L558.4,260.9 L558.7,260.3 L559.0,258.7 L559.3,257.5 L559.6,257.1 L559.9,256.0 L560.2,254.8 L560.5,253.7 L560.8,253.5 L561.1,252.2 L561.4,251.1 L561.7,249.8 L562.0,248.5 L562.3,246.8 L562.6,245.7 L562.9,244.3 L563.2,243.7 L563.5,243.2 L563.8,243.0 L564.2,242.2 L564.6,242.7 L565.1,243.8 L565.5,245.2 L566.0,245.0 L566.5,245.2 L567.0,246.1 L567.5,247.3 L568.0,247.5 L568.5,248.2 L569.0,250.4 L569.5,251.3 L570.1,251.4 L570.6,251.0 L571.1,251.5 L571.7,251.1 L572.2,249.9 L572.8,248.9 L573.3,248.3 L573.9,248.0 L574.4,246.8 L575.0,245.4 L575.5,244.6 L576.1,244.6 L576.6,244.0 L577.0,244.1 L577.4,243.6 L577.8,244.6 L578.1,245.3 L578.4,245.6 L578.7,245.9 L579.0,246.9 L579.3,248.5 L579.6,250.2 L580.0,251.4 L580.3,251.7 L580.6,252.6 L580.9,254.4 L581.2,256.2 L581.5,256.9 L581.8,257.3 L582.1,257.4 L582.5,258.5 L582.8,259.8 L583.2,259.8 L583.6,258.8 L584.0,257.7 L584.4,256.6 L584.8,256.4 L585.2,255.9 L585.6,254.5 L586.0,252.5 L586.4,252.0 L586.8,251.9 L587.2,251.1 L587.6,249.6 L588.0,248.3 L588.4,246.9 L588.8,245.5 L589.2,244.9 L589.6,244.8 L590.0,244.4 L590.4,243.8 L590.8,243.5 L591.2,242.7 L591.6,242.7 L592.0,243.2 L592.3,243.3 L592.7,243.4 L593.1,244.4 L593.4,245.0 L593.8,245.5 L594.1,246.4 L594.5,246.8 L594.8,247.4 L595.2,248.6 L595.5,250.1 L595.9,250.4 L596.3,251.2 L596.6,252.4 L597.0,254.1 L597.3,254.7 L597.7,255.5 L598.0,255.8 L598.4,256.0 L598.8,256.1 L599.2,256.0 L599.7,254.8 L600.1,253.8 L600.5,253.2 L600.9,252.2 L601.3,251.0 L601.8,250.7 L602.2,249.2 L602.6,247.4 L603.0,245.9 L603.4,245.5 L603.8,244.8 L604.2,244.5 L604.6,245.1 L604.9,245.6 L605.2,246.6 L605.5,247.6 L605.8,248.7 L606.1,249.5 L606.4,251.0 L606.7,252.6 L607.0,253.1 L607.3,253.2 L607.6,253.7 L607.9,255.0 L608.2,256.4 L608.5,257.5 L608.8,258.0 L609.1,259.2 L609.4,260.4 L609.7,261.2 L610.0,261.1 L610.3,261.1 L610.6,260.7 L610.9,261.5 L611.2,261.3 L611.5,260.0 L611.7,258.0 L612.0,257.1 L612.3,256.7 L612.6,256.1 L612.9,256.0 L613.1,255.1 L613.4,254.4 L613.7,252.9 L614.0,251.9 L614.3,249.9 L614.5,248.5 L614.8,247.4 L615.1,247.0 L615.4,245.2 L615.7,244.5 L616.0,244.1 L616.3,244.3 L616.7,243.9 L617.1,244.4 L617.5,245.5 L617.9,246.0 L618.3,246.4 L618.7,247.3 L619.2,248.9 L619.6,250.0 L620.0,250.5 L620.4,251.0 L620.9,252.0 L621.3,253.7 L621.7,254.7 L622.2,255.8 L622.6,256.7 L623.1,257.3 L623.6,256.8 L624.2,255.8 L624.7,254.4 L625.3,252.8 L625.9,252.5 L626.5,252.3 L627.1,251.9 L627.7,251.3 L628.4,249.9 L629.0,249.4 L629.7,248.9 L630.5,249.2 L631.2,249.2 L632.0,249.7 L632.7,250.0 L633.3,250.4 L633.7,251.7 L634.1,253.5 L634.3,255.2 L634.6,255.8 L634.8,256.0 L635.1,256.4 L635.3,257.9 L635.6,258.6 L635.8,260.1 L636.1,261.1 L636.3,262.3 L636.6,262.8 L636.8,264.4 L637.1,265.4 L637.3,265.8 L637.6,265.2 L637.8,264.8 L638.0,264.1 L638.2,263.1 L638.4,262.0 L638.7,260.8 L638.9,259.8 L639.1,257.9 L639.3,256.6 L639.5,255.9 L639.8,255.0 L640.0,254.1 L640.2,253.2 L640.4,252.8 L640.6,250.7 L640.9,249.2 L641.1,248.7 L641.3,248.3 L641.5,247.3 L641.7,245.2 L642.0,244.5 L642.2,243.6 L642.4,243.8 L642.6,242.2 L642.9,241.9 L643.1,241.7 L643.4,242.9 L643.6,243.1 L643.9,243.6 L644.2,245.1 L644.4,246.5 L644.7,247.0 L645.0,247.0 L645.2,247.9 L645.5,249.5 L645.8,251.6 L646.1,252.7 L646.3,252.2 L646.6,252.8 L646.9,254.9 L647.2,256.7 L647.6,257.3 L648.0,257.0 L648.6,256.4 L649.3,255.2 L650.1,254.4 L650.9,254.4 L651.8,254.5 L652.7,255.5 L653.7,255.3 L654.6,255.0 L655.5,254.4 L656.3,255.5 L656.9,256.6 L657.4,256.3 L657.8,256.4 L658.2,257.8 L658.6,259.2 L659.0,259.4 L659.3,260.2 L659.7,261.6 L660.1,262.2 L660.5,262.4 L660.9,263.0 L661.2,264.2 L661.6,264.9 L662.0,265.7 L662.4,265.5 L662.8,264.1 L663.2,262.7 L663.6,262.2 L664.0,262.1 L664.4,261.4 L664.8,260.0 L665.2,258.3 L665.7,257.3 L666.1,256.4 L666.5,254.8 L666.9,253.8 L667.3,253.4 L667.7,253.0 L668.1,251.2 L668.5,249.9 L668.9,248.6 L669.3,248.2 L669.7,248.1 L670.1,247.0 L670.5,246.6 L670.9,246.3 L671.3,246.9 L671.7,247.5 L672.0,249.0 L672.4,249.6 L672.8,250.8 L673.2,251.8 L673.5,253.1 L673.9,253.5 L674.3,255.3 L674.7,256.1 L675.1,257.0 L675.5,257.1 L676.0,257.9 L676.7,257.5 L677.4,257.1 L678.1,257.0 L678.9,257.2 L679.6,256.7 L680.3,256.6 L680.9,257.0 L681.5,256.8 L682.0,256.7 L682.4,257.2 L682.9,258.5 L683.3,259.9 L683.7,261.1 L684.2,261.1 L684.6,261.5 L685.1,262.8 L685.5,263.5 L685.9,264.4 L686.4,264.6 L686.8,265.2 L687.2,265.3 L687.6,266.0 L687.9,265.8 L688.3,264.8 L688.6,264.1 L689.0,263.2 L689.3,262.4 L689.6,260.6 L690.0,259.2 L690.3,258.7 L690.6,258.1 L691.0,257.5 L691.3,256.9 L691.6,256.9 L692.0,256.5 L692.3,255.1 L692.7,253.1 L693.0,251.9 L693.3,251.5 L693.7,251.4 L694.0,250.5 L694.4,250.4 L694.8,250.6 L695.2,251.3 L695.6,251.8 L696.0,252.4 L696.4,253.1 L696.8,253.9 L697.2,255.1 L697.6,255.8 L698.1,257.1 L698.5,257.8 L698.9,259.1 L699.3,259.3 L699.8,259.8 L700.2,260.6 L700.7,260.8 L701.3,259.8 L701.9,258.0 L702.5,257.3 L703.1,257.9 L703.7,257.8 L704.3,257.2 L704.9,255.3 L705.5,254.3 L706.1,253.6 L706.7,254.1 L707.2,253.3 L707.8,252.8 L708.2,252.6 L708.7,253.1 L709.1,253.5 L709.5,254.2 L709.9,254.6 L710.3,255.5 L710.7,257.1 L711.2,258.7 L711.6,258.8 L712.0,259.9 L712.4,261.5 L712.8,263.2 L713.2,264.2 L713.6,264.8 L714.0,265.4 L714.4,265.8 L714.8,266.6 L715.2,266.8 L715.6,267.0 L715.9,267.2 L716.2,266.8 L716.5,265.8 L716.8,264.3 L717.1,263.4 L717.4,262.3 L717.7,261.0 L718.0,260.0 L718.3,259.2 L718.6,258.3 L718.9,257.2 L719.2,257.2 L719.5,257.2 L719.8,256.5 L720.1,254.7 L720.3,254.0 L720.6,253.3 L720.9,252.1 L721.2,250.4 L721.5,249.6 L721.9,249.6 L722.2,249.4 L722.6,250.1 L723.0,250.0 L723.4,250.7 L723.8,250.6 L724.2,252.3 L724.6,253.2 L725.1,254.2 L725.5,254.8 L725.9,256.5 L726.3,257.0 L726.7,257.1 L727.2,257.0 L727.6,258.2 L728.1,259.2 L728.7,260.1 L729.4,259.9 L730.2,259.6 L731.0,259.2 L731.9,259.3 L732.8,260.0 L733.7,259.6 L734.6,259.1 L735.4,259.0 L736.3,260.3 L737.2,260.6 L738.0,261.0 L738.8,260.8 L739.5,261.4 L740.1,261.5 L740.6,261.2 L741.0,260.2 L741.4,259.3 L741.8,257.8 L742.1,256.7 L742.5,256.3 L742.9,255.9 L743.2,255.0 L743.6,254.6 L744.0,253.4 L744.3,251.4 L744.7,250.7 L745.1,251.2 L745.4,250.6 L745.8,249.0 L746.1,248.4 L746.4,249.1 L746.8,249.8 L747.1,250.8 L747.4,251.6 L747.8,252.6 L748.1,253.9 L748.4,255.3 L748.7,256.5 L749.1,257.4 L749.4,259.0 L749.7,259.9 L750.1,260.5 L750.4,260.8 L750.7,262.4 L751.1,263.8 L751.5,264.2 L751.9,263.6 L752.4,263.6 L753.0,263.9 L753.7,263.9 L754.3,263.6 L755.0,262.4 L755.6,260.7 L756.3,259.0 L757.0,258.4 L757.7,258.2 L758.5,259.4 L759.3,259.6 L760.2,258.5 L761.1,257.2 L761.9,257.9 L762.6,258.9 L763.2,259.4 L763.8,260.1 L764.3,261.6 L764.9,262.8 L765.5,263.3 L766.0,264.0 L766.5,264.6 L767.0,264.7 L767.5,263.6 L767.9,262.7 L768.3,262.4 L768.7,261.6 L769.1,260.7 L769.5,260.0 L769.9,259.7 L770.2,258.7 L770.6,257.2 L771.0,256.7 L771.4,256.5 L771.8,256.1 L772.2,253.8 L772.6,251.9 L773.0,251.6 L773.3,252.9 L773.7,253.5 L774.1,253.9 L774.5,253.8 L774.9,254.3 L775.3,254.7 L775.7,256.1 L776.0,256.5 L776.4,257.6 L776.8,259.2 L777.2,260.3 L777.6,259.9 L778.0,260.2 L778.4,261.1 L778.9,260.7 L779.5,260.4 L780.0,260.6 L780.6,260.5 L781.2,260.2 L781.8,259.7 L782.4,258.5 L783.0,256.8 L783.6,255.7 L784.2,254.8 L784.8,254.2 L785.4,254.0 L785.9,253.7 L786.4,254.3 L786.8,255.6 L787.2,256.7 L787.5,257.1 L787.9,257.9 L788.2,259.0 L788.5,259.9 L788.9,261.2 L789.2,261.4 L789.6,261.9 L789.9,261.7 L790.3,262.7 L790.6,264.1 L790.9,266.2 L791.3,267.2 L791.6,267.6 L792.0,267.8 L792.3,268.4 L792.7,268.2 L793.1,268.1 L793.6,267.4 L794.0,267.0 L794.5,266.3 L794.9,265.9 L795.4,264.5 L795.9,263.0 L796.3,263.0 L796.8,262.4 L797.3,262.3 L797.7,261.3 L798.2,260.6 L798.6,258.6 L799.1,257.8 L799.6,258.0 L800.0,257.3 L800.5,255.8 L801.0,255.2 L801.4,255.9 L801.9,257.0 L802.4,257.2 L802.9,257.8 L803.4,257.5 L803.9,259.2 L804.4,260.0 L804.9,260.1 L805.4,259.8 L806.0,261.0 L806.5,263.2 L807.1,263.5 L807.8,263.1 L808.5,262.2 L809.3,262.5 L810.0,262.0 L810.7,261.5 L811.5,260.9 L812.2,260.8 L812.9,260.6 L813.6,261.0 L814.3,261.5 L815.0,262.5 L815.7,262.8 L816.3,263.7 L816.9,264.1 L817.5,264.3 L818.0,262.9 L818.5,261.6 L819.0,261.0 L819.5,260.9 L820.0,260.2 L820.5,259.5 L821.0,258.2 L821.5,257.1 L821.9,255.3 L822.4,254.8 L822.9,254.2 L823.4,253.7 L823.9,253.1 L824.3,253.1 L824.8,252.1 L825.2,251.6 L825.5,251.8 L825.9,254.0 L826.3,256.1 L826.6,257.6 L827.0,257.8 L827.4,257.7 L827.7,259.0 L828.1,260.2 L828.5,261.8 L828.8,262.2 L829.2,263.2 L829.5,263.6 L829.9,264.7 L830.3,265.6 L830.8,267.1 L831.3,267.1 L832.0,266.5 L832.8,266.1 L833.7,266.3 L834.4,266.7 L835.1,266.0 L835.6,265.1 L836.1,264.3 L836.4,264.2 L836.8,263.2 L837.2,262.6 L837.6,261.8 L837.9,260.9 L838.3,259.8 L838.7,259.6 L839.0,258.3 L839.3,258.1 L839.7,258.2 L840.0,259.4 L840.3,259.4 L840.6,259.6 L840.9,260.4 L841.2,261.6 L841.5,263.5 L841.8,264.1 L842.1,265.6 L842.4,266.5 L842.7,267.2 L843.1,266.3 L843.5,265.4 L843.9,264.3 L844.3,263.5 L844.7,263.0 L845.1,262.5 L845.5,261.2 L845.9,260.0 L846.3,259.0 L846.7,258.6 L847.1,258.7 L847.5,258.6 L847.9,257.4 L848.3,255.3 L848.8,253.9 L849.3,253.4 L849.9,254.6 L850.5,255.8 L851.0,257.0 L851.5,257.4 L852.0,258.6 L852.4,260.1 L852.8,261.2 L853.1,261.6 L853.5,261.8 L853.9,263.2 L854.2,264.1 L854.6,264.7 L855.0,264.7 L855.3,265.5 L855.7,267.0 L856.1,269.7 L856.5,270.9 L856.9,271.2 L857.5,270.9 L858.1,270.7 L858.8,269.7 L859.6,269.1 L860.4,268.6 L861.2,268.8 L861.9,267.8 L862.5,267.0 L863.1,265.9 L863.7,265.6 L864.2,264.5 L864.8,264.0 L865.3,263.5 L865.8,262.7 L866.3,261.8 L866.8,260.3 L867.4,259.8 L867.8,260.6 L868.3,262.0 L868.7,262.2 L869.1,261.5 L869.6,261.6 L870.0,262.0 L870.4,263.1 L870.8,264.5 L871.2,265.6 L871.6,266.5 L872.0,266.3 L872.4,267.2 L872.8,268.2 L873.2,269.1 L873.5,268.8 L873.8,269.1 L874.0,268.6 L874.3,267.2 L874.5,265.2 L874.8,265.2 L875.0,265.7 L875.2,265.3 L875.4,263.3 L875.7,261.3 L875.9,260.6 L876.1,259.7 L876.4,259.3 L876.6,258.7 L876.8,258.1 L877.1,256.7 L877.3,255.5 L877.5,255.1 L877.8,253.7 L878.0,252.7 L878.3,251.8 L878.5,251.6 L878.8,251.5 L879.1,252.3 L879.4,253.1 L879.7,253.2 L879.9,253.8 L880.2,255.8 L880.5,258.5 L880.8,260.1 L881.1,260.8 L881.4,260.9 L881.7,261.3 L881.9,262.0 L882.2,262.8 L882.4,263.2 L882.7,264.1 L882.9,265.5 L883.1,266.4 L883.3,267.4 L883.5,268.6 L883.7,270.3 L883.9,271.3 L884.1,272.2 L884.3,272.7 L884.5,273.7 L884.7,274.5 L884.8,275.2 L885.0,276.5 L885.2,278.0 L885.3,278.7" stroke="#000" stroke-width="1.85" fill="none" stroke-linejoin="round"/><line x1="96" y1="40" x2="96" y2="340.5" stroke="#333" stroke-width="1.3"/><line x1="95.5" y1="340.2" x2="885" y2="340.2" stroke="#111" stroke-width="1.3"/><line x1="96" y1="389" x2="96" y2="514.5" stroke="#333" stroke-width="1.3"/><line x1="95.5" y1="514" x2="885" y2="514" stroke="#111" stroke-width="1.3"/><line x1="181.6" y1="340" x2="181.6" y2="331.5" stroke="#222" stroke-width="1.2"/><line x1="181.6" y1="514" x2="181.6" y2="505.5" stroke="#222" stroke-width="1.2"/><line x1="267.3" y1="340" x2="267.3" y2="331.5" stroke="#222" stroke-width="1.2"/><line x1="267.3" y1="514" x2="267.3" y2="505.5" stroke="#222" stroke-width="1.2"/><line x1="353.0" y1="340" x2="353.0" y2="331.5" stroke="#222" stroke-width="1.2"/><line x1="353.0" y1="514" x2="353.0" y2="505.5" stroke="#222" stroke-width="1.2"/><line x1="438.7" y1="340" x2="438.7" y2="331.5" stroke="#222" stroke-width="1.2"/><line x1="438.7" y1="514" x2="438.7" y2="505.5" stroke="#222" stroke-width="1.2"/><line x1="524.4" y1="340" x2="524.4" y2="331.5" stroke="#222" stroke-width="1.2"/><line x1="524.4" y1="514" x2="524.4" y2="505.5" stroke="#222" stroke-width="1.2"/><line x1="610.1" y1="340" x2="610.1" y2="331.5" stroke="#222" stroke-width="1.2"/><line x1="610.1" y1="514" x2="610.1" y2="505.5" stroke="#222" stroke-width="1.2"/><line x1="695.8" y1="340" x2="695.8" y2="331.5" stroke="#222" stroke-width="1.2"/><line x1="695.8" y1="514" x2="695.8" y2="505.5" stroke="#222" stroke-width="1.2"/><line x1="781.5" y1="340" x2="781.5" y2="331.5" stroke="#222" stroke-width="1.2"/><line x1="781.5" y1="514" x2="781.5" y2="505.5" stroke="#222" stroke-width="1.2"/><line x1="867.2" y1="340" x2="867.2" y2="331.5" stroke="#222" stroke-width="1.2"/><line x1="867.2" y1="514" x2="867.2" y2="505.5" stroke="#222" stroke-width="1.2"/><line x1="96" y1="280.2" x2="104.5" y2="280.2" stroke="#222" stroke-width="1.2"/><line x1="96" y1="220.2" x2="104.5" y2="220.2" stroke="#222" stroke-width="1.2"/><line x1="96" y1="160.2" x2="104.5" y2="160.2" stroke="#222" stroke-width="1.2"/><line x1="96" y1="100.2" x2="104.5" y2="100.2" stroke="#222" stroke-width="1.2"/><line x1="96" y1="445.2" x2="104.5" y2="445.2" stroke="#222" stroke-width="1.2"/><path d="M96.2,514 L158.3,412.4 Q159.6,410.3 161.6,410.3 L885,410.3" stroke="#000" stroke-width="1.5" fill="none"/><line x1="96" y1="40.2" x2="880" y2="40.2" stroke="#000" stroke-width="1.5"/><path d="M95.2,40.2 L121.7,45.2 L114.9,40.2 L121.7,35.2 Z" fill="#000" stroke="#000" stroke-width="0.9" stroke-linejoin="round"/><path d="M157.1,40.2 L130.6,35.2 L137.4,40.2 L130.6,45.2 Z" fill="#000" stroke="#000" stroke-width="0.9" stroke-linejoin="round"/><path d="M157.1,40.2 L183.6,45.2 L176.8,40.2 L183.6,35.2 Z" fill="#000" stroke="#000" stroke-width="0.9" stroke-linejoin="round"/><path d="M678.8,40.2 L652.3,35.2 L659.1,40.2 L652.3,45.2 Z" fill="#000" stroke="#000" stroke-width="0.9" stroke-linejoin="round"/><path d="M678.8,40.2 L705.3,45.2 L698.5,40.2 L705.3,35.2 Z" fill="#000" stroke="#000" stroke-width="0.9" stroke-linejoin="round"/><path d="M885.0,40.2 L858.5,35.2 L865.3,40.2 L858.5,45.2 Z" fill="#000" stroke="#000" stroke-width="0.9" stroke-linejoin="round"/><line x1="202.3" y1="86" x2="185.0" y2="106.2" stroke="#000" stroke-width="1.5"/><path d="M173.1,120.0 L197.5,106.7 L185.0,106.2 L182.6,93.9 Z" fill="#000" stroke="#000" stroke-width="0.9" stroke-linejoin="round"/><line x1="352" y1="158.4" x2="324.6" y2="186.6" stroke="#000" stroke-width="1.5"/><path d="M311.9,199.7 L337.0,187.9 L324.6,186.6 L323.0,174.2 Z" fill="#000" stroke="#000" stroke-width="0.9" stroke-linejoin="round"/><line x1="541.6" y1="124.4" x2="530.4" y2="185.4" stroke="#000" stroke-width="1.5"/><path d="M527.1,203.3 L541.4,179.5 L530.4,185.4 L522.2,176.0 Z" fill="#000" stroke="#000" stroke-width="0.9" stroke-linejoin="round"/><line x1="188.3" y1="298.6" x2="150.3" y2="274.8" stroke="#000" stroke-width="1.5"/><path d="M134.9,265.1 L151.7,287.2 L150.3,274.8 L162.1,270.6 Z" fill="#000" stroke="#000" stroke-width="0.9" stroke-linejoin="round"/><ellipse cx="114.5" cy="237.3" rx="23.9" ry="46.4" stroke="#000" stroke-width="1.5" fill="none"/><line x1="740" y1="196.3" x2="755" y2="196.3" stroke="#000" stroke-width="1.5"/><line x1="764.4" y1="196.3" x2="779.6" y2="196.3" stroke="#000" stroke-width="1.5"/><line x1="789" y1="196.3" x2="804.2" y2="196.3" stroke="#000" stroke-width="1.5"/><line x1="813.6" y1="196.3" x2="828.8" y2="196.3" stroke="#000" stroke-width="1.5"/><line x1="838.2" y1="196.3" x2="853.5" y2="196.3" stroke="#000" stroke-width="1.5"/><line x1="863" y1="196.3" x2="868.1" y2="196.3" stroke="#000" stroke-width="1.5"/><line x1="867.2" y1="196.3" x2="867.2" y2="207" stroke="#000" stroke-width="1.5"/><line x1="867.2" y1="216.8" x2="867.2" y2="231.8" stroke="#000" stroke-width="1.5"/><line x1="867.2" y1="241.4" x2="867.2" y2="256.5" stroke="#000" stroke-width="1.5"/><line x1="867.2" y1="266" x2="867.2" y2="281" stroke="#000" stroke-width="1.5"/><line x1="867.2" y1="290.6" x2="867.2" y2="305.6" stroke="#000" stroke-width="1.5"/><line x1="867.2" y1="315.2" x2="867.2" y2="317.2" stroke="#000" stroke-width="1.5"/><line x1="730" y1="316.3" x2="745.4" y2="316.3" stroke="#000" stroke-width="1.5"/><line x1="754.9" y1="316.3" x2="770" y2="316.3" stroke="#000" stroke-width="1.5"/><line x1="779.5" y1="316.3" x2="794.7" y2="316.3" stroke="#000" stroke-width="1.5"/><line x1="804.1" y1="316.3" x2="819.3" y2="316.3" stroke="#000" stroke-width="1.5"/><line x1="828.7" y1="316.3" x2="843.9" y2="316.3" stroke="#000" stroke-width="1.5"/><line x1="853.3" y1="316.3" x2="867.2" y2="316.3" stroke="#000" stroke-width="1.5"/><line x1="730" y1="196" x2="730" y2="210.8" stroke="#000" stroke-width="1.5"/><line x1="730" y1="220.4" x2="730" y2="235.3" stroke="#000" stroke-width="1.5"/><line x1="730" y1="245" x2="730" y2="260" stroke="#000" stroke-width="1.5"/><line x1="730" y1="269.5" x2="730" y2="284.4" stroke="#000" stroke-width="1.5"/><line x1="730" y1="294.1" x2="730" y2="309.5" stroke="#000" stroke-width="1.5"/><line x1="752.3" y1="82.8" x2="809.6" y2="82.8" stroke="#cfcfcf" stroke-width="1.2"/><line x1="752.3" y1="118" x2="809.6" y2="118" stroke="#000" stroke-width="1.7"/>
<text y="24.6" font-size="28.4"><tspan x="8.6">(</tspan><tspan x="17.8" font-style="italic">a</tspan><tspan x="33.1">)</tspan></text><text y="407.7" font-size="28.4"><tspan x="8.6">(</tspan><tspan x="18.1" font-style="italic">b</tspan><tspan x="33.6">)</tspan></text><text x="127.3" y="26.5" font-size="24.5" text-anchor="middle" >A</text><text x="419.5" y="26.3" font-size="24.5" text-anchor="middle" >B</text><text x="782.4" y="26.3" font-size="24.5" text-anchor="middle" >C</text><text x="85.6" y="290.5" font-size="25" text-anchor="end" >1</text><text x="85.6" y="229.9" font-size="25" text-anchor="end" >2</text><text x="85.6" y="170.0" font-size="25" text-anchor="end" >3</text><text x="85.6" y="108.7" font-size="25" text-anchor="end" >4</text><text x="85.6" y="48.8" font-size="25" text-anchor="end" >5</text><text x="86.3" y="453.3" font-size="25" text-anchor="end" >0.2</text><text x="79.2" y="368.8" font-size="25" text-anchor="middle" >0</text><text x="79.2" y="542.6" font-size="25" text-anchor="middle" >0</text><text x="182.6" y="368.8" font-size="25" text-anchor="middle" >0.5</text><text x="182.6" y="542.6" font-size="25" text-anchor="middle" >0.5</text><text x="269.3" y="368.8" font-size="25" text-anchor="middle" >1.0</text><text x="269.3" y="542.6" font-size="25" text-anchor="middle" >1.0</text><text x="353.5" y="368.8" font-size="25" text-anchor="middle" >1.5</text><text x="353.5" y="542.6" font-size="25" text-anchor="middle" >1.5</text><text x="439.9" y="368.8" font-size="25" text-anchor="middle" >2.0</text><text x="439.9" y="542.6" font-size="25" text-anchor="middle" >2.0</text><text x="524.8" y="368.8" font-size="25" text-anchor="middle" >2.5</text><text x="524.8" y="542.6" font-size="25" text-anchor="middle" >2.5</text><text x="610.2" y="368.8" font-size="25" text-anchor="middle" >3.0</text><text x="610.2" y="542.6" font-size="25" text-anchor="middle" >3.0</text><text x="695.5" y="368.8" font-size="25" text-anchor="middle" >3.5</text><text x="695.5" y="542.6" font-size="25" text-anchor="middle" >3.5</text><text x="781.7" y="368.8" font-size="25" text-anchor="middle" >4.0</text><text x="781.7" y="542.6" font-size="25" text-anchor="middle" >4.0</text><text x="866.8" y="368.8" font-size="25" text-anchor="middle" >4.5</text><text x="866.8" y="542.6" font-size="25" text-anchor="middle" >4.5</text><text x="205" y="81.1" font-size="24.8" text-anchor="start" >Initial peak</text><text x="357" y="152.7" font-size="24.5" text-anchor="start" >Peak 1</text><text x="508.5" y="113.3" font-size="24.5" text-anchor="start" >Peak 2</text><text x="199" y="315.6" font-size="24.8" text-anchor="start" >Step response</text><text x="819.5" y="93.8" font-size="24.5" text-anchor="start" >Raw</text><text x="819.5" y="126.5" font-size="24.5" text-anchor="start" >Filt.</text><text x="798.2" y="158.7" font-size="24.8" text-anchor="middle" >High-frequency</text><text x="798.2" y="183.4" font-size="24.8" text-anchor="middle" >fluctuations</text><text y="576.7" font-size="28.4"><tspan x="475.4" font-style="italic">t</tspan><tspan x="491">(</tspan><tspan x="501.2">s</tspan><tspan x="512.1">)</tspan></text><text transform="translate(53.2,230.8) rotate(-90)" font-size="29.5"><tspan x="0" font-style="italic">F</tspan><tspan x="17.7" dy="4.1" font-style="italic" font-size="19.5">x</tspan><tspan x="34.9" dy="-4.1">(</tspan><tspan x="44.6">N</tspan><tspan x="65.7">)</tspan></text><text transform="translate(36.4,536.4) rotate(-90)" font-size="29"><tspan x="-2" font-style="italic">V</tspan><tspan x="22">(</tspan><tspan x="36.9">m</tspan><tspan x="65.7">s</tspan><tspan x="77.6" dy="-7.8" font-size="25">−</tspan><tspan x="92.4" dy="-3.4" font-size="19.5">1</tspan><tspan x="103" dy="11.2">)</tspan></text>
</svg>
</body></html>
